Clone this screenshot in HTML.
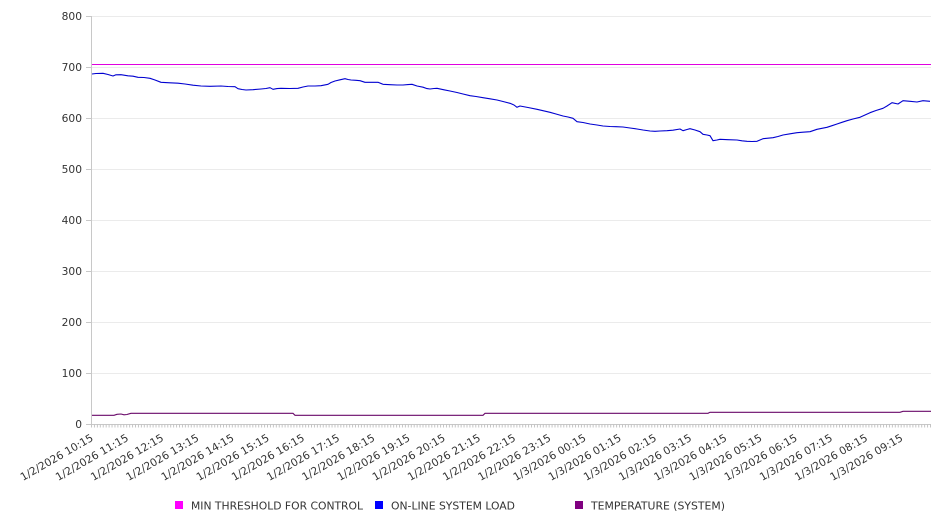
<!DOCTYPE html>
<html>
<head>
<meta charset="utf-8">
<style>
html,body{margin:0;padding:0;background:#fff;}
svg{display:block;}
text{font-family:"DejaVu Sans","Liberation Sans",sans-serif;font-size:10.67px;fill:#333;}
</style>
</head>
<body>
<svg width="946" height="526" viewBox="0 0 946 526" xmlns="http://www.w3.org/2000/svg">
<defs>
<pattern id="mt" x="91" y="424" width="2.9336" height="4" patternUnits="userSpaceOnUse">
<rect x="0" y="0" width="1" height="3.5" fill="#c4c4c4"/>
</pattern>
</defs>
<rect width="946" height="526" fill="#fff"/>
<!-- gridlines -->
<g stroke="#ebebeb" stroke-width="1">
<line x1="91" y1="16.5" x2="931" y2="16.5"/>
<line x1="91" y1="67.5" x2="931" y2="67.5"/>
<line x1="91" y1="118.5" x2="931" y2="118.5"/>
<line x1="91" y1="169.5" x2="931" y2="169.5"/>
<line x1="91" y1="220.5" x2="931" y2="220.5"/>
<line x1="91" y1="271.5" x2="931" y2="271.5"/>
<line x1="91" y1="322.5" x2="931" y2="322.5"/>
<line x1="91" y1="373.5" x2="931" y2="373.5"/>
</g>
<!-- y ticks -->
<g stroke="#c8c8c8" stroke-width="1">
<line x1="86" y1="16.5" x2="91" y2="16.5"/>
<line x1="86" y1="67.5" x2="91" y2="67.5"/>
<line x1="86" y1="118.5" x2="91" y2="118.5"/>
<line x1="86" y1="169.5" x2="91" y2="169.5"/>
<line x1="86" y1="220.5" x2="91" y2="220.5"/>
<line x1="86" y1="271.5" x2="91" y2="271.5"/>
<line x1="86" y1="322.5" x2="91" y2="322.5"/>
<line x1="86" y1="373.5" x2="91" y2="373.5"/>
<line x1="86" y1="424.5" x2="91" y2="424.5"/>
<line x1="91.5" y1="16" x2="91.5" y2="425"/>
<line x1="91" y1="424.5" x2="931" y2="424.5"/>
</g>
<rect x="91" y="424" width="840" height="4" fill="url(#mt)"/>
<!-- y labels -->
<g text-anchor="end">
<text x="82" y="20">800</text>
<text x="82" y="71">700</text>
<text x="82" y="122">600</text>
<text x="82" y="173">500</text>
<text x="82" y="224">400</text>
<text x="82" y="275">300</text>
<text x="82" y="326">200</text>
<text x="82" y="377">100</text>
<text x="82" y="428">0</text>
</g>
<!-- x labels -->
<g text-anchor="end">
<text transform="translate(94.0,440) rotate(-30)">1/2/2026 10:15</text>
<text transform="translate(129.2,440) rotate(-30)">1/2/2026 11:15</text>
<text transform="translate(164.4,440) rotate(-30)">1/2/2026 12:15</text>
<text transform="translate(199.6,440) rotate(-30)">1/2/2026 13:15</text>
<text transform="translate(234.8,440) rotate(-30)">1/2/2026 14:15</text>
<text transform="translate(270.0,440) rotate(-30)">1/2/2026 15:15</text>
<text transform="translate(305.2,440) rotate(-30)">1/2/2026 16:15</text>
<text transform="translate(340.4,440) rotate(-30)">1/2/2026 17:15</text>
<text transform="translate(375.6,440) rotate(-30)">1/2/2026 18:15</text>
<text transform="translate(410.8,440) rotate(-30)">1/2/2026 19:15</text>
<text transform="translate(446.0,440) rotate(-30)">1/2/2026 20:15</text>
<text transform="translate(481.2,440) rotate(-30)">1/2/2026 21:15</text>
<text transform="translate(516.4,440) rotate(-30)">1/2/2026 22:15</text>
<text transform="translate(551.6,440) rotate(-30)">1/2/2026 23:15</text>
<text transform="translate(586.8,440) rotate(-30)">1/3/2026 00:15</text>
<text transform="translate(622.0,440) rotate(-30)">1/3/2026 01:15</text>
<text transform="translate(657.2,440) rotate(-30)">1/3/2026 02:15</text>
<text transform="translate(692.4,440) rotate(-30)">1/3/2026 03:15</text>
<text transform="translate(727.6,440) rotate(-30)">1/3/2026 04:15</text>
<text transform="translate(762.8,440) rotate(-30)">1/3/2026 05:15</text>
<text transform="translate(798.0,440) rotate(-30)">1/3/2026 06:15</text>
<text transform="translate(833.2,440) rotate(-30)">1/3/2026 07:15</text>
<text transform="translate(868.4,440) rotate(-30)">1/3/2026 08:15</text>
<text transform="translate(903.6,440) rotate(-30)">1/3/2026 09:15</text>
</g>
<!-- magenta threshold -->
<line x1="92" y1="64.5" x2="931" y2="64.5" stroke="#e000e0" stroke-width="1"/>
<!-- blue load -->
<polyline fill="none" stroke="#0000d0" stroke-width="1.1" stroke-linejoin="round" points="92,74 96,73.5 103,73.3 108,74.5 113,76 116,74.8 121,74.7 128,75.8 133,76.2 138,77.3 144,77.5 150,78.3 155,80 161,82.3 170,82.8 178,83.2 185,84 193,85.2 201,86 210,86.3 221,86 228,86.5 235,86.7 238,88.7 242,89.5 246,90 253,89.7 261,89 266,88.5 270,87.7 273,89.3 277,88.6 281,88.3 290,88.5 298,88.3 303,87 308,86 315,86 321,85.7 328,84.3 331,82.5 335,81 340,79.8 345,78.7 348,79.5 351,80 356,80.3 360,80.7 365,82.3 372,82.3 378,82.3 383,84.3 390,84.7 397,85 403,85 408,84.6 412,84.3 417,86 423,87.2 427,88.6 430,89 434,88.5 437,88.3 444,89.8 450,91 457,92.5 463,94 470,95.7 476,96.5 483,97.7 490,98.8 497,100 503,101.5 510,103.3 514,105 517,107.3 520,106 528,107.5 537,109.3 543,110.7 550,112.3 556,114 563,116 568,117 573,118.3 577,121.7 583,122.5 590,124 597,125 603,126 610,126.5 616,126.7 623,127 630,128 637,129 643,130 650,131 655,131.3 660,131 667,130.7 673,130.2 680,129 683,130.7 687,129.5 690,128.7 695,130 700,131.7 703,134.3 707,135 710,135.7 713,140.7 717,140 720,139.3 728,139.7 737,140 742,140.8 747,141.3 752,141.5 757,141.3 760,140 763,138.7 768,138.2 773,137.7 778,136.5 783,135 790,133.8 797,132.7 803,132.2 810,131.7 817,129.3 822,128.3 827,127.3 832,125.7 837,124 842,122.3 847,120.7 853,119 860,117.3 865,115 870,112.7 876,110.5 883,108.3 887,106 892,102.7 898,104 903,100.7 910,101.3 917,102 923,100.7 930,101.3"/>
<!-- temperature -->
<polyline fill="none" stroke="#6a0a6a" stroke-width="1.1" points="92,415.3 114,415.3 117,414.3 121,414 124,414.8 127,414.5 131,413.3 293,413.3 295,415.3 483,415.3 485,413.3 708,413.3 710,412.3 900,412.3 903,411.3 931,411.3"/>
<!-- legend -->
<rect x="175" y="501" width="8" height="8" fill="#ff00ff"/>
<text x="191" y="509.5" textLength="172" lengthAdjust="spacingAndGlyphs">MIN THRESHOLD FOR CONTROL</text>
<rect x="375" y="501" width="8" height="8" fill="#0000ff"/>
<text x="391" y="509.5" textLength="124" lengthAdjust="spacingAndGlyphs">ON-LINE SYSTEM LOAD</text>
<rect x="575" y="501" width="8" height="8" fill="#800080"/>
<text x="591" y="509.5" textLength="134" lengthAdjust="spacingAndGlyphs">TEMPERATURE (SYSTEM)</text>
</svg>
</body>
</html>
